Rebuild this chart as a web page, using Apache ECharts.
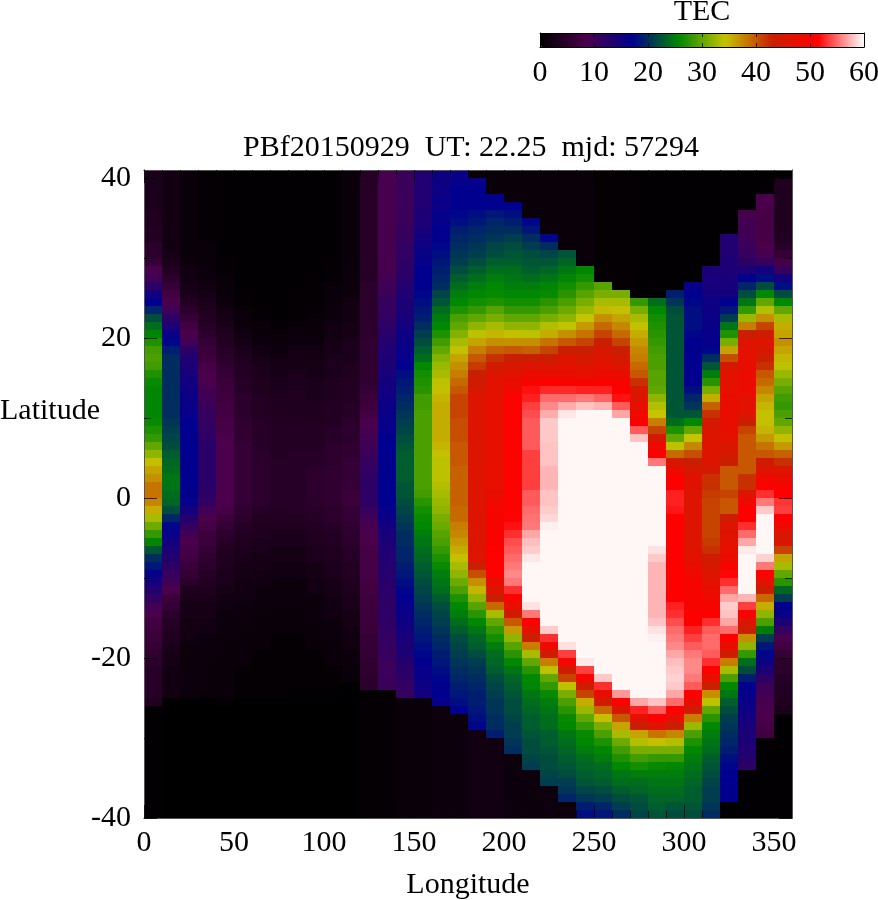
<!DOCTYPE html>
<html>
<head>
<meta charset="utf-8">
<style>html,body{margin:0;padding:0;background:#fff}#c{width:878px;height:900px}</style>
<script src="https://cdn.jsdelivr.net/npm/echarts@6/dist/echarts.min.js"></script>
</head>
<body>
<div id="c"></div>
<script>
// TEC values by longitude column (10 degree bins), listed from latitude 40 (top) down to -40
const col000=[3,3,3,3,3,3.5,3.5,4,4,5,
5,6,8.5,10,12,15,17,19.5,22,24,
25.5,27,28.5,29,28.5,27,26,25.5,25.5,25.5,
25.5,26,27,28,30,32,34.5,36,37,38.5,38.5,
37.5,35.5,33,30.5,28,25.5,22.5,20,18.5,16.5,
15,13,11.5,10,8.5,7.5,7,6.5,6,5.5,
5,4.5,4.5,4.5,4.5,4,0.2,0.2,0.2,0.2,
0.2,0.2,0.2,0.2,0.2,0.2,0.2,0.2,0.2,0.2];
const col010=[2,2,2,2,2,2,2,2,2,2,
2.5,3,4,5,6,7.5,8.5,10,12,14,
16,17.5,19,20,20,20,20,20,20,20,
20,20.5,21,21.5,22,23,23.5,24,24.5,24.5,24,
23.5,22,19.5,17.5,16.5,15,14,13,12,11,
10,8.5,7,6,5,4.5,4,3.5,3,2.5,
2.5,2,2,2,2,0,0,0,0,0,
0,0,0,0,0,0,0,0,0,0];
const col020=[1,1,1,1,1,1,1,1,1,1,
1,1.5,2,2,2.5,3,4,5,6,7.5,
8.5,10,12,13.5,14,14.5,15,15.5,16,16,
16.5,17,17,17,17,17,17,17,17,17,17,
16.5,15,13,11.5,9.5,8.5,8,7.5,6.5,6,
5,3.5,3,2.5,2.5,2,2,2,1.5,1.5,
1.5,1.5,1.5,1.5,1.5,0,0,0,0,0,
0,0,0,0,0,0,0,0,0,0];
const col030=[0.5,0.5,0.5,0.5,0.5,0.5,0.5,0.5,0.5,1,
1,1,1,1.5,2,2.5,3,3.5,4,4.5,
5,6,6.5,7,8,8.5,8.5,9.5,10,10.5,
11,11,11.5,12,12.5,12.5,12.5,12.5,12.5,12.5,12,
11.5,10,8.5,8,7,6.5,6,5.5,5,4.5,
4,3.5,3,2.5,2.5,2,2,1.5,1.5,1.5,
1,1,1,1,1,0,0,0,0,0,
0,0,0,0,0,0,0,0,0,0];
const col040=[0.3,0.3,0.3,0.3,0.3,0.3,0.3,0.3,0.3,0.3,
0.3,0.5,0.5,1,1,1,1.5,2,2.5,3,
3.5,4,4.5,5,5.5,6,6.5,7,7,7.5,
7.5,8,8,8.5,8.5,8.5,8.5,8.5,8.5,8.5,8.5,
8.5,8,7,6,5,4.5,4,3.5,3.5,3,
3,2.5,2,2,1.5,1.5,1.5,1,1,1,
1,1,1,1,1,0.5,0,0,0,0,
0,0,0,0,0,0,0,0,0,0];
const col050=[0.2,0.2,0.2,0.2,0.2,0.2,0.2,0.2,0.2,0.2,
0.2,0.2,0.2,0.2,0.2,0.5,0.5,1,1,1.5,
2,2.5,3,3.5,4,4,4.5,4.5,5,5,
5,5.5,5.5,5.5,6,6,6,6,6,6,6,
6,5.5,5,4.5,4,3.5,3,3,2.5,2.5,
2,2,2,1.5,1.5,1.5,1,1,1,1,
1,0.5,0.5,0.5,0.5,0,0,0,0,0,
0,0,0,0,0,0,0,0,0,0];
const col060=[0.2,0.2,0.2,0.2,0.2,0.2,0.2,0.2,0.2,0.2,
0.2,0.2,0.2,0.2,0.2,0.2,0.2,0.5,0.5,1,
1,1.5,2,2.5,3,3,3.5,3.5,4,4,
4,4.5,4.5,4.5,4.5,5,5,5,5,5,5,
5,4.5,4,3.5,3.5,3,3,2.5,2.5,2,
2,1.5,1.5,1.5,1,1,1,1,1,0.5,
0.5,0.5,0.5,0.5,0.5,0,0,0,0,0,
0,0,0,0,0,0,0,0,0,0];
const col070=[0.2,0.2,0.2,0.2,0.2,0.2,0.2,0.2,0.2,0.2,
0.2,0.2,0.2,0.2,0.2,0.2,0.2,0.2,0.2,0.5,
1,1,1.5,2,2.5,2.5,3,3,3.5,3.5,
3.5,4,4,4,4,4,4.5,4.5,4.5,4.5,4.5,
4.5,4,4,3.5,3,3,2.5,2.5,2,2,
1.5,1.5,1.5,1,1,1,1,0.5,0.5,0.5,
0.5,0.5,0.5,0.5,0.5,0,0,0,0,0,
0,0,0,0,0,0,0,0,0,0];
const col080=[0.2,0.2,0.2,0.2,0.2,0.2,0.2,0.2,0.2,0.2,
0.2,0.2,0.2,0.2,0.2,0.2,0.5,0.5,0.5,1,
1,1.5,2,2.5,2.5,3,3,3.5,3.5,3.5,
3.5,4,4,4,4,4.5,4.5,4.5,4.5,4.5,4.5,
4.5,4.5,4,3.5,3,3,2.5,2.5,2,2,
1.5,1.5,1.5,1,1,1,1,0.5,0.5,0.5,
0.5,0.5,0.5,0.5,0.3,0,0,0,0,0,
0,0,0,0,0,0,0,0,0,0];
const col090=[0.2,0.2,0.2,0.2,0.2,0.2,0.2,0.2,0.2,0.2,
0.2,0.2,0.2,0.2,0.5,0.5,0.5,0.5,1,1,
1,1.5,2,2,2.5,2.5,3,3,3,3.5,
3.5,3.5,4,4,4,4.5,4.5,5,5,5,5,
5,4.5,4.5,4,3.5,3.5,3,3,2.5,2.5,
2,2,1.5,1.5,1.5,1,1,1,1,0.5,
0.5,0.5,0.5,0.3,0.3,0,0,0,0,0,
0,0,0,0,0,0,0,0,0,0];
const col100=[0.2,0.2,0.2,0.2,0.2,0.2,0.2,0.2,0.2,0.2,
0.2,0.5,0.5,0.5,1,1,1,1.5,1.5,2,
2,2.5,2.5,3,3,3,3.5,3.5,3.5,4,
4,4,4.5,4.5,5,5,5,5.5,5.5,5.5,5.5,
5.5,5,5,4.5,4,4,3.5,3.5,3,3,
2.5,2.5,2,2,2,1.5,1.5,1,1,1,
1,0.5,0.5,0.5,0.3,0,0,0,0,0,
0,0,0,0,0,0,0,0,0,0];
const col110=[1,1,1,1,1,1,1,1,1,1,
1,1,1.5,1.5,1.5,1.5,2,2,2,2.5,
2.5,3,3,3,3.5,3.5,4,4,4,4.5,
4.5,5,5,5,5.5,5.5,6,6,6,6,6.5,
6.5,6,6,5.5,5,5,4.5,4.5,4,4,
3.5,3.5,3,3,2.5,2.5,2,2,2,1.5,
1.5,1,1,0,0,0,0,0,0,0,
0,0,0,0,0,0,0,0,0,0];
const col120=[4.5,4.5,4.5,4.5,4.5,4.5,4.5,4.5,4.5,4.5,
4.5,4.5,4.5,4.5,5,5,5,5,5,5,
5,5.5,5.5,5.5,5.5,5.5,5.5,6,6.5,7,
7.5,8.5,9,9.5,10,10.5,11,11.5,12,12,12,
12,11,10,9,8.6,8.5,8,8,8,8,
7.5,7.5,7,7,7,6.5,6.5,6,6,6,
5.5,5.5,5,5,0.5,0.5,0.5,0.5,0.5,0.5,
0.5,0.5,0.5,0.5,0.5,0.5,0.5,0.5,0.5,0.5];
const col130=[9,9,9,9,9,9,9,9,9,9,
9,9,9,9.5,10,10.5,11,11,11.5,12,
12.5,13,13.5,14,14,14.5,15,15,15.5,16,
16,16.5,16.5,17,17,17,17,17,17,17,17,
17,16.5,16,15,14.5,14,13.5,13.5,13,13,
12.5,12.5,12,12,12,12,11.5,11.5,11,11,
10.5,10.5,10.5,10.5,0.5,0.5,0.5,0.5,0.5,0.5,
0.5,0.5,0.5,0.5,0.5,0.5,0.5,0.5,0.5,0.5];
const col140=[10.5,10.5,10.5,10.5,10.5,10.5,10.5,11,11,11.5,
11.5,12,12,12.5,13,13.5,14,14,14.5,15,
15.5,16,16,16.5,17,18,18.5,19,19.5,20,
20.5,21,21.5,22,22.5,23,23,23,23,22.5,22.5,
22,21.5,21,20.5,20,20,19.5,19.5,19,18.5,
18,17.5,17,16.5,16,15.5,15,14.5,14,14,
13,12.5,12,11.5,11,1,1,1,1,1,
1,1,1,1,1,1,1,1,1,1];
const col150=[13.5,13.5,13.5,13.5,13.5,14,14,14.5,15,15.5,
16,16.5,17,17,17,17.5,18,18.5,19,20,
21,22,23,24,25.7,26.5,27,27.5,28.5,28.5,
29,29,29,29,29,29,29,29,29,29,28.5,
27.5,26.5,26,25.7,25,24.5,24,23.5,23,22.5,
22,21.5,21,20.5,20,19.5,19,18.5,18,17.5,
17,16.5,16,15.5,15,1,1,1,1,1,
1,1,1,1,1,1,1,1,1,1];
const col160=[15.5,15.5,15.5,16,16,16.5,16.5,17,17,17.5,
18,18.5,19,19.5,20,21.5,22.5,24,25,25.7,
27,28.5,30,31.5,32.5,33,34,34.5,35,35.5,
35.5,35.5,35.5,35.5,35,34.5,34,34,34,33.5,33,
32.5,32,31,30.5,29.5,29,28,27,26,25,
24.5,24,23,22,21.5,21,20.5,20,19.5,19,
18.5,18,17.5,17,17,16.5,1.5,1.5,1.5,1.5,
1.5,1.5,1.5,1.5,1.5,1.5,1.5,1.5,1.5,1.5];
const col170=[16.5,16.5,17,17,17,17.5,18,19,19.5,20,
20.5,21,22,23,24,25,25.7,27,29,30,
31.5,33,34.5,36,37,38,39,40,41,41,
41,40.5,40.5,40.5,40,40,40,39.5,39.5,39.5,39.5,
39.5,39,39,38,37.5,36.5,35.5,34.5,33,32,
30.5,29,27,25.7,25,24,23,22,21.5,21,
20.5,20,19.5,19,18.5,18,17,1.5,1.5,1.5,
1.5,1.5,1.5,1.5,1.5,1.5,1.5,1.5,1.5,1.5];
const col180=[1,16.5,17,17,17,18,18.5,19.5,20,20.5,
21,22,23,24,25,25.7,26.5,28,30,32,
34,36,38,40,41.5,43,44,45,46,46,
46,46,46,46,46,46,46,46,46,46,46,
46,46,46,46,46,46,46,46,43.5,40.5,
37,35,32,29.5,27.5,25.7,24.5,23.5,23,22,
21,20.5,20,19.5,19,19,18.5,18,17.5,2,
2,2,2,2,2,2,2,2,2,2];
const col190=[1,1,1,17,17,18.5,19.5,20,20.5,21.5,
22,23,24,25,25.7,26,27,29.5,31,33,
35,37,39.5,42,44,46,47,47,47,47.5,
47.5,47.5,47.5,47.5,47.5,47.5,47.5,47.5,47.5,47.5,48,
49,49.5,50,50,50.5,50.5,51,51,51,51,
48,46,43,39,33,30,28,26.5,25,24,
23.5,23,22,21.5,21,20.5,20.5,20,20,19,
2,2,2,2,2,2,2,2,2,2];
const col200=[1,1,1,1,17,18,19,20,21,22,
22.5,23,24,24.5,25,25.7,26.5,28,30,32,
34.5,37,40,43,45,47,48,49,51,51,
51,51,51,51,51,51,51,51,51,51,51,
51,51,51.5,52,53,54,54.5,55,55.5,56,
55.5,53,51,47.5,44,40,36.5,32,29.5,27.5,
25.7,24.5,23.5,23,22.5,22,22,21.5,21,21,
20.5,20,1.5,1.5,1.5,1.5,1.5,1.5,1.5,1.5];
const col210=[1,1,1,1,1,1,17.5,18.5,20,21,
22,22.5,23,24,25,25.7,26.5,28,30,32,
34,37,39.5,43,46,48,50,52,52.5,53.5,
54,54.5,54.5,54.5,54.5,53.5,53.5,53.5,53.5,53.5,54.5,
54.5,55,55.3,55.5,57,57.8,58.3,59.2,59.7,59.7,
59.7,59.7,59.7,59,55.5,51.4,47,43.5,38,33,
30,27.5,25.7,25.5,24.5,24,23.5,23,23,22.5,
22,22,21.5,21,1.5,1.5,1.5,1.5,1.5,1.5];
const col220=[1,1,1,1,1,1,1,1,17.5,20,
21.5,22.5,23.5,24.5,25.5,26,27.5,29,31,33.5,
35.5,38.5,41,43,46,48,51.4,52.8,55,56,
57.2,58.2,58.2,58.2,58,58,58,57.5,57.5,57.5,58,
58,58.3,58.7,59.5,59.7,59.7,59.7,59.7,59.7,59.7,
59.7,59.7,59.7,59.7,59.7,59.7,58.3,53,49,44,
38,34,30,28,26,25,24.5,24,24,23,
23,22.5,22,22,21.5,21,1.5,1.5,1.5,1.5];
const col230=[1,1,1,1,1,1,1,1,1,1,
22.5,23.5,24.5,25.5,26.5,27.5,29,30.5,32,34.2,
37,40,43,46,47,48,50,52.8,55,57.2,
59.2,59.7,59.7,59.7,59.7,59.7,59.7,59.7,59.7,59.7,59.7,
59.7,59.7,59.7,59.7,59.7,59.7,59.7,59.7,59.7,59.7,
59.7,59.7,59.7,59.7,59.7,59.7,59.7,59.7,59,53.5,
49.5,44,41,34,31,29,27.5,26,25.7,24.5,
24,23.5,23,22.5,22,21,20.5,19.5,1.5,1.5];
const col240=[1,1,1,1,1,1,1,1,1,1,
1,1,25.7,26.5,28,29.5,31,32.5,34.3,36.5,
38.5,41,43,44.5,46,47.5,50,52.5,55.5,58,
59.7,59.7,59.7,59.7,59.7,59.7,59.7,59.7,59.7,59.7,59.7,
59.7,59.7,59.7,59.7,59.7,59.7,59.7,59.7,59.7,59.7,
59.7,59.7,59.7,59.7,59.7,59.7,59.7,59.7,59.7,59.7,
59.3,53.5,49.5,44,41,35.5,32.5,30,28,26,
25.7,25,24,23.5,23,22.5,21.5,20.5,19,18];
const col250=[0.5,0.5,0.5,0.5,0.5,0.5,0.5,0.5,0.5,0.5,
0.5,0.5,0.5,0.5,29.5,31,33,34.8,37,39,
41,43,45,46,47,48.5,50.5,52.5,54.8,57.5,
59.7,59.7,59.7,59.7,59.7,59.7,59.7,59.7,59.7,59.7,59.7,
59.7,59.7,59.7,59.7,59.7,59.7,59.7,59.7,59.7,59.7,
59.7,59.7,59.7,59.7,59.7,59.7,59.7,59.7,59.7,59.7,
59.7,59.7,58.2,53,48,44,39,34.5,31,29,
27,25.7,25,24,23.5,23,22,21,19.5,18.5];
const col260=[0.5,0.5,0.5,0.5,0.5,0.5,0.5,0.5,0.5,0.5,
0.5,0.5,0.5,0.5,0.5,31,33,34.5,36,37.5,
39,41,43,44.5,46,48,50,51.4,52,54.5,
57,59.7,59.7,59.7,59.7,59.7,59.7,59.7,59.7,59.7,59.7,
59.7,59.7,59.7,59.7,59.7,59.7,59.7,59.7,59.7,59.7,
59.7,59.7,59.7,59.7,59.7,59.7,59.7,59.7,59.7,59.7,
59.7,59.7,59.7,59.7,56.5,51.4,45,40,36,33,
30.5,28.5,27,25.7,24.5,24,23,22,21,20];
const col270=[0.3,0.3,0.3,0.3,0.3,0.3,0.3,0.3,0.3,0.3,
0.3,0.3,0.3,0.3,0.3,0.3,28,31,33,34.5,
35.5,36.5,37.5,38,39,40,42,45,46,47.5,
49,51.4,54.5,58,59.7,59.7,59.7,59.7,59.7,59.7,59.7,
59.7,59.7,59.7,59.7,59.7,59.7,59.7,59.7,59.7,59.7,
59.7,59.7,59.7,59.7,59.7,59.7,59.7,59.7,59.7,59.7,
59.7,59.7,59.7,59.7,59.7,57,52.5,47,43,36,
33.5,31,28.5,26.5,25,24,23.5,22.5,22,21.5];
const col280=[0.2,0.2,0.2,0.2,0.2,0.2,0.2,0.2,0.2,0.2,
0.2,0.2,0.2,0.2,0.2,0.2,24,25.7,26.5,27,
27.5,28,28.5,29,29,29.5,29.5,30,32,33.5,
34.3,38,41,45,49,51.4,55.5,59.7,59.7,59.7,59.7,
59.7,59.7,59.7,59.7,59.7,59.7,59,58.2,57.5,57.5,
57.5,57.5,57.5,57.5,57.5,58,59,59.5,59.7,59.7,
59.7,59.7,59.7,59.7,59.7,58,54.5,51.4,46,38.5,
34.5,31,28,26,25,24.5,24,23.5,23,22.5];
const col290=[0.2,0.2,0.2,0.2,0.2,0.2,0.2,0.2,0.2,0.2,
0.2,0.2,0.2,0.2,0.2,19,20.5,22,22.5,22.5,
22.5,22.5,22.5,22.5,22.5,22.5,22.5,22.5,22.5,22.5,
22.5,24,27,30,34,39,45,48,51.4,51.4,52.5,
52.5,52.2,51.4,51.4,51.4,51.4,51.4,51.4,51.4,51.4,
51.4,51.4,51.4,52.5,53,54,55,55.5,56,57,
57.8,58.2,58.5,58.2,57,55,51.4,47.5,43,37.5,
33.5,31,28,25.7,25,24.5,24,23.5,22.5,22];
const col300=[0.2,0.2,0.2,0.2,0.2,0.2,0.2,0.2,0.2,0.2,
0.2,0.2,0.2,0.2,16.5,17,17.5,18,18,18,
17.5,17,17,17,17,17,17,18,19.5,20.5,
22.5,25.7,30,34.3,37.5,40.5,43,45,46.5,46.5,46,
46,46,46,46,46,46,46,47,48,49,
50,50,50,50,51,51.4,52.5,53.5,54.5,55.5,
56,56,55.5,54.5,51.4,48,44,38,32.5,29,
27,25.7,25,24.5,24,23.5,23,23,22.5,22];
const col310=[0.2,0.2,0.2,0.2,0.2,0.2,0.2,0.2,0.2,0.2,
0.2,0.2,14,14.5,14.5,15,15.5,15.5,16,16,
16.5,16.5,17.5,20,22.5,25,27.5,31,35.5,39.5,
42,44.5,45.5,46,46,46,46,44.5,42,42,41.5,
41,41,41,41,41,41.5,42,44,45,46,
47,48,49,50,51.4,53,54.5,55,55,54.5,
53,51.4,47.5,43.5,37,34,30,27.5,25.7,25,
24.5,24,23,22.5,22,21.5,21,21,20.5,20];
const col320=[0.2,0.2,0.2,0.2,0.2,0.2,0.2,0.2,13.5,13.5,
13.5,14,14,14.5,14.5,15,17,18.5,21,24.5,
27,31,36,40.5,44.5,47,47,47.5,48,48,
48,48,48,47,45.5,44.5,43,40,40,40,41,
40,40,44,46,46.5,47,47.5,48.5,50,51.6,
53,55,57,58.3,58,57,55,51.4,48,44,
38,33,29,25.7,24.5,23,22,21,20.5,20,
19.5,19,18,17.5,17,17,17,17,0.3,0.3];
const col330=[0.2,0.2,0.2,0.2,0.2,9,9.5,9.5,10,10.5,
11,12,14,17,19.5,22,24.5,28,32.5,38,
43,46,47,47.5,48,48.5,48.5,48.5,47,47,
46,43,41,40,40,40,40,40,42,42,46,
49,51.4,51.4,53,55,57,59.3,59.7,59.7,59.7,
59.7,59.7,57.5,53.5,50,46,43,37,32,28,
24,22,19,17,16.5,16,15.5,15,14.5,14,
14,13.5,13,12,0.2,0.2,0.2,0.2,0.2,0.2];
const col340=[0.2,0.2,0.2,8.5,8.5,8,8,8,8,8.5,
9,11,15,18,22,25.7,30,33.5,37,41,
44,46,45,43.5,42,40,39,37.5,36,35,
34.5,34.5,35,36.5,38.5,40,44,46,49,51,53,
55.5,58.2,59.7,59.7,59.7,59.7,59.7,58.5,55.5,51,
47,43,39,35.5,32,29,25,21,18.5,17.5,
15.5,14,12,10.5,10,9,8.8,8.6,8,7.5,
0.2,0.2,0.2,0.2,0.2,0.2,0.2,0.2,0.2,0.2];
const col350=[0.2,3.5,3.5,3.5,3.5,3.5,3.5,3.5,4,4.5,
6,8,11,15,18,22,25.7,30,33,35.5,
36,37,36,35,34,32.5,31,29.5,28.5,28,
29,30,32,34.5,36.5,39.5,42,46,48,50,51.4,
53.2,53.5,51.4,49,45.5,45,41,36,33,30,
27.5,23.5,21,17,16,14,11,9,7.5,6,
5,5,4.5,4,4,3.5,3,0.2,0.2,0.2,
0.2,0.2,0.2,0.2,0.2,0.2,0.2,0.2,0.2,0.2];

const tecColumns=[col000,col010,col020,col030,col040,col050,col060,col070,col080,col090,col100,col110,
col120,col130,col140,col150,col160,col170,col180,col190,col200,col210,col220,col230,
col240,col250,col260,col270,col280,col290,col300,col310,col320,col330,col340,col350];

const titleText='PBf20150929  UT: 22.25  mjd: 57294';
const lonMajor=[0,50,100,150,200,250,300,350];
const lonMinor=[10,20,30,40,60,70,80,90,110,120,130,140,160,170,180,190,210,220,230,240,260,270,280,290,310,320,330,340];
const latMajor=[-40,-20,0,20,40];
const latMinor=[-30,-10,10,30];
const tecTicks=[0,10,20,30,40,50,60];
const paletteColors=['#000000','#4b004b','#00008f','#008800','#c4c400','#c82000','#ff0000','#ffffff'];

const FONT='"Liberation Serif"';
const FS=30;
const cells=[];
tecColumns.forEach((col,i)=>col.forEach((v,j)=>cells.push([i*10,40-j,v])));

function axisBase(extra){
  return Object.assign({type:'value',z:6,splitLine:{show:false},
    axisLine:{show:true,onZero:false,lineStyle:{color:'#555',width:1}},
    axisLabel:{show:false},silent:true},extra);
}
function tick(vals,len){return {show:true,inside:true,length:len,customValues:vals,lineStyle:{color:'#000',width:1,opacity:.75}};}
const lonBase={min:0,max:360,gridIndex:0};
const latBase={min:-40,max:41,gridIndex:0};
const xAxes=[
  axisBase(Object.assign({},lonBase,{position:'bottom',axisTick:tick(lonMajor,13),
    axisLabel:{show:true,customValues:lonMajor,margin:10,color:'#000',fontFamily:FONT,fontSize:FS},
    name:'Longitude',nameLocation:'middle',nameGap:52,nameTextStyle:{color:'#000',fontFamily:FONT,fontSize:FS}})),
  axisBase(Object.assign({},lonBase,{position:'bottom',axisTick:tick(lonMinor,7)})),
  axisBase(Object.assign({},lonBase,{position:'top',axisTick:tick(lonMajor,13)})),
  axisBase(Object.assign({},lonBase,{position:'top',axisTick:tick(lonMinor,7)})),
  axisBase({gridIndex:1,min:0,max:60,position:'bottom',axisTick:tick(tecTicks,4),
    axisLine:{show:true,onZero:false,lineStyle:{color:'#000',width:1}},
    axisLabel:{show:true,customValues:tecTicks,margin:11,color:'#000',fontFamily:FONT,fontSize:FS}}),
  axisBase({gridIndex:1,min:0,max:60,position:'top',axisTick:tick(tecTicks,4),
    axisLine:{show:true,onZero:false,lineStyle:{color:'#000',width:1}}})
];
const yAxes=[
  axisBase(Object.assign({},latBase,{position:'left',axisTick:tick(latMajor,13),
    axisLabel:{show:true,customValues:latMajor,margin:13,color:'#000',fontFamily:FONT,fontSize:FS}})),
  axisBase(Object.assign({},latBase,{position:'left',axisTick:tick(latMinor,7)})),
  axisBase(Object.assign({},latBase,{position:'right',axisTick:tick(latMajor,13)})),
  axisBase(Object.assign({},latBase,{position:'right',axisTick:tick(latMinor,7)})),
  axisBase({gridIndex:1,min:0,max:1,position:'left',axisTick:{show:false},
    axisLine:{show:true,onZero:false,lineStyle:{color:'#000',width:1}}}),
  axisBase({gridIndex:1,min:0,max:1,position:'right',axisTick:{show:false},
    axisLine:{show:true,onZero:false,lineStyle:{color:'#000',width:1}}})
];

const chart=echarts.init(document.getElementById('c'),null,{renderer:'canvas'});
chart.setOption({
  animation:false,
  backgroundColor:'#fff',
  title:[
    {text:titleText,left:471,top:132,textAlign:'center',padding:0,textStyle:{fontFamily:FONT,fontSize:FS,fontWeight:'normal',color:'#000',lineHeight:32}},
    {text:'TEC',left:702,top:-4,textAlign:'center',padding:0,textStyle:{fontFamily:FONT,fontSize:FS,fontWeight:'normal',color:'#000',lineHeight:32}},
    {text:'Latitude',left:0,top:395,padding:0,textStyle:{fontFamily:FONT,fontSize:FS,fontWeight:'normal',color:'#000',lineHeight:32}}
  ],
  grid:[
    {left:144,top:170,width:648,height:648,containLabel:false,outerBoundsMode:'none'},
    {left:540,top:33,width:324,height:14,containLabel:false,outerBoundsMode:'none'}
  ],
  xAxis:xAxes,
  yAxis:yAxes,
  visualMap:{
    type:'continuous',min:0,max:60,seriesIndex:0,dimension:2,
    orient:'horizontal',left:540,top:33,itemWidth:14,itemHeight:324,padding:0,
    calculable:false,realtime:false,hoverLink:false,text:null,showLabel:false,
    inRange:{color:paletteColors},z:1
  },
  series:[{
    type:'custom',xAxisIndex:0,yAxisIndex:0,coordinateSystem:'cartesian2d',
    data:cells,encode:{x:0,y:1},z:2,silent:true,clip:true,
    renderItem:function(params,api){
      const a=api.coord([api.value(0),api.value(1)+1]);
      const b=api.coord([api.value(0)+10,api.value(1)]);
      return {type:'rect',shape:{x:a[0],y:a[1],width:b[0]-a[0],height:b[1]-a[1]},
        style:{fill:api.visual('color'),stroke:null}};
    }
  }]
});
</script>
</body>
</html>
